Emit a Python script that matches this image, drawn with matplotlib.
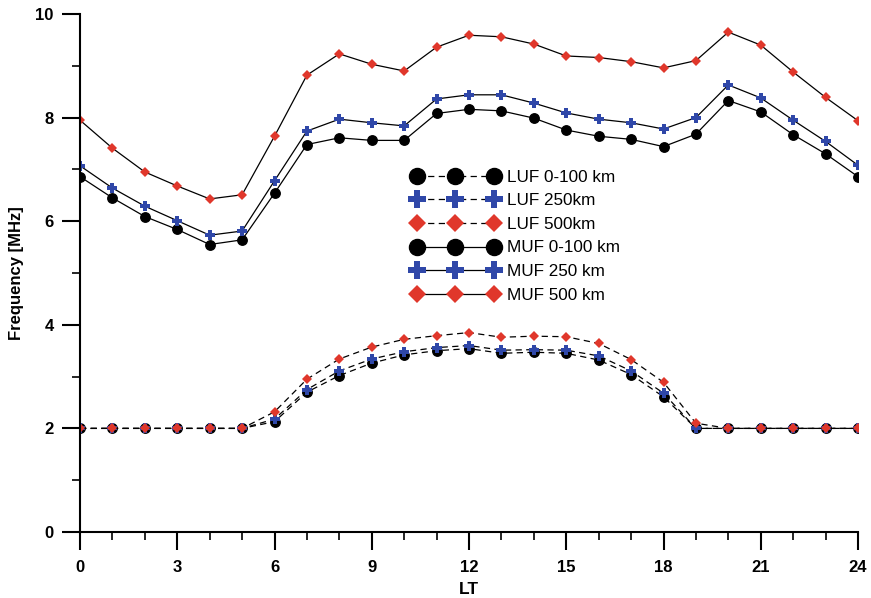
import matplotlib
matplotlib.use("Agg")
import matplotlib.pyplot as plt
from matplotlib.ticker import MultipleLocator

plt.rcParams['font.family'] = ['Liberation Sans', 'DejaVu Sans']

hours = list(range(25))

luf_0_100 = [2.0, 2.0, 2.0, 2.0, 2.0, 2.0, 2.13, 2.70, 3.02, 3.26, 3.42, 3.50, 3.54,
             3.45, 3.47, 3.45, 3.32, 3.04, 2.61, 2.0, 2.0, 2.0, 2.0, 2.0, 2.0]
luf_250 = [2.0, 2.0, 2.0, 2.0, 2.0, 2.0, 2.18, 2.75, 3.11, 3.34, 3.48, 3.56, 3.60,
           3.51, 3.52, 3.51, 3.40, 3.11, 2.68, 2.0, 2.0, 2.0, 2.0, 2.0, 2.0]
luf_500 = [2.0, 2.0, 2.0, 2.0, 2.0, 2.0, 2.32, 2.95, 3.34, 3.57, 3.72, 3.79, 3.85,
           3.76, 3.78, 3.77, 3.64, 3.33, 2.89, 2.10, 2.0, 2.0, 2.0, 2.0, 2.0]
muf_0_100 = [6.86, 6.45, 6.09, 5.84, 5.55, 5.64, 6.54, 7.48, 7.61, 7.56, 7.56, 8.08, 8.16,
             8.13, 7.99, 7.76, 7.64, 7.58, 7.44, 7.68, 8.33, 8.11, 7.67, 7.30, 6.86]
muf_250 = [7.07, 6.64, 6.29, 6.01, 5.73, 5.81, 6.78, 7.74, 7.97, 7.90, 7.84, 8.36, 8.44,
           8.44, 8.28, 8.09, 7.97, 7.90, 7.78, 8.00, 8.63, 8.38, 7.95, 7.54, 7.08]
muf_500 = [7.95, 7.41, 6.95, 6.68, 6.43, 6.51, 7.64, 8.82, 9.23, 9.03, 8.90, 9.36, 9.59,
           9.56, 9.42, 9.19, 9.16, 9.08, 8.96, 9.10, 9.65, 9.40, 8.88, 8.39, 7.94]

labels = ["LUF 0-100 km", "LUF 250km", "LUF 500km",
          "MUF 0-100 km", "MUF 250 km", "MUF 500 km"]

RED = "#e0372b"
BLUE = "#2f47a8"
BLACK = "#000000"

fig = plt.figure(figsize=(8.71, 5.98), dpi=100)
ax = fig.add_axes([80/871, 1-532/598, 778/871, 518/598])

dash = (0, (5, 3.5))
common = dict(color='black', linewidth=0.9)
ax.plot(hours, luf_0_100, linestyle=dash, marker='o', ms=6.8, mfc=BLACK, mec=BLACK, label=labels[0], **common)
ax.plot(hours, luf_250, linestyle=dash, marker='P', ms=7.5, mfc=BLUE, mec=BLUE, mew=0, label=labels[1], **common)
ax.plot(hours, luf_500, linestyle=dash, marker='D', ms=5.5, mfc=RED, mec=RED, mew=0, label=labels[2], **common)
ax.plot(hours, muf_0_100, linestyle='-', marker='o', ms=6.8, mfc=BLACK, mec=BLACK, label=labels[3], **common)
ax.plot(hours, muf_250, linestyle='-', marker='P', ms=7.5, mfc=BLUE, mec=BLUE, mew=0, label=labels[4], **common)
ax.plot(hours, muf_500, linestyle='-', marker='D', ms=5.5, mfc=RED, mec=RED, mew=0, label=labels[5], **common)

ax.set_xlim(0, 24)
ax.set_ylim(0, 10)
ax.xaxis.set_major_locator(MultipleLocator(3))
ax.xaxis.set_minor_locator(MultipleLocator(1))
ax.yaxis.set_major_locator(MultipleLocator(2))
ax.yaxis.set_minor_locator(MultipleLocator(1))
for s in ['top', 'right']:
    ax.spines[s].set_visible(False)
for s in ['left', 'bottom']:
    ax.spines[s].set_linewidth(1.5)
ax.tick_params(which='major', direction='out', length=13, width=1.5, labelsize=12)
ax.tick_params(axis='x', which='major', pad=7)
ax.tick_params(axis='y', which='major', pad=6)
ax.tick_params(which='minor', direction='out', length=6, width=1.2)
for lab in ax.get_xticklabels() + ax.get_yticklabels():
    lab.set_fontweight('bold')
for sp in ax.spines.values():
    sp.set_clip_on(False)

ax.set_xlabel("LT", fontsize=12.5, fontweight='bold', labelpad=5)
ax.set_ylabel("Frequency [MHz]", fontsize=12, fontweight='bold', labelpad=8)

leg = ax.legend(loc='center', bbox_to_anchor=(0.56, 0.571), frameon=False,
                numpoints=3, handlelength=5.1, markerscale=1.7, fontsize=12.3,
                labelspacing=0.5, handletextpad=0.45)

fig.savefig("out.png", dpi=100)
